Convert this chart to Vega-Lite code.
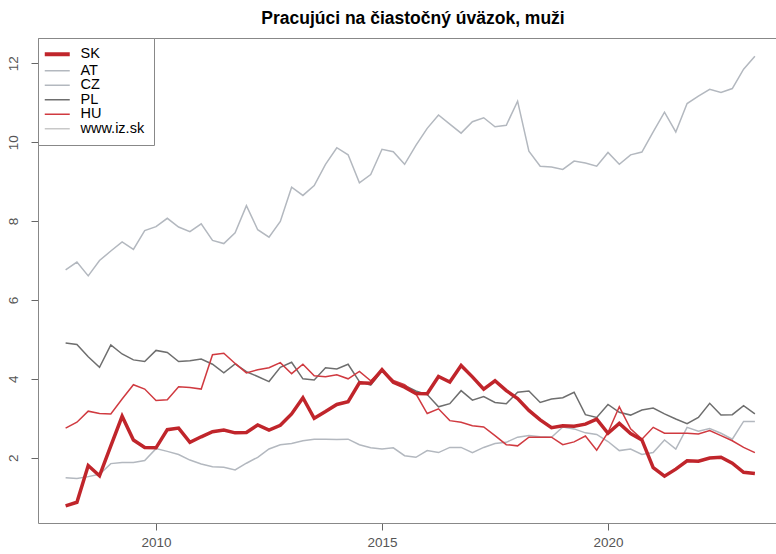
{
  "$schema": "https://vega.github.io/schema/vega-lite/v6.json",
  "width": 738,
  "height": 485,
  "autosize": {"type": "none"},
  "padding": {"left": 38, "top": 38, "right": 0, "bottom": 31},
  "background": "#ffffff",
  "title": {"text": "Pracujúci na čiastočný úväzok, muži", "fontSize": 17.5, "fontWeight": "bold", "font": "Liberation Sans", "color": "#000000", "anchor": "middle", "offset": 10, "dx": 6},
  "config": {"view": {"stroke": null}, "font": "Liberation Sans"},
  "data": {"values": [
{"t":2008,"s":"AT","v":6.76},{"t":2008.25,"s":"AT","v":6.96},{"t":2008.5,"s":"AT","v":6.61},{"t":2008.75,"s":"AT","v":7.00},{"t":2009,"s":"AT","v":7.24},{"t":2009.25,"s":"AT","v":7.47},{"t":2009.5,"s":"AT","v":7.28},{"t":2009.75,"s":"AT","v":7.76},{"t":2010,"s":"AT","v":7.86},{"t":2010.25,"s":"AT","v":8.07},{"t":2010.5,"s":"AT","v":7.85},{"t":2010.75,"s":"AT","v":7.73},{"t":2011,"s":"AT","v":7.93},{"t":2011.25,"s":"AT","v":7.51},{"t":2011.5,"s":"AT","v":7.43},{"t":2011.75,"s":"AT","v":7.70},{"t":2012,"s":"AT","v":8.39},{"t":2012.25,"s":"AT","v":7.78},{"t":2012.5,"s":"AT","v":7.59},{"t":2012.75,"s":"AT","v":7.99},{"t":2013,"s":"AT","v":8.86},{"t":2013.25,"s":"AT","v":8.65},{"t":2013.5,"s":"AT","v":8.90},{"t":2013.75,"s":"AT","v":9.44},{"t":2014,"s":"AT","v":9.86},{"t":2014.25,"s":"AT","v":9.68},{"t":2014.5,"s":"AT","v":8.97},{"t":2014.75,"s":"AT","v":9.18},{"t":2015,"s":"AT","v":9.82},{"t":2015.25,"s":"AT","v":9.76},{"t":2015.5,"s":"AT","v":9.44},{"t":2015.75,"s":"AT","v":9.92},{"t":2016,"s":"AT","v":10.35},{"t":2016.25,"s":"AT","v":10.69},{"t":2016.5,"s":"AT","v":10.46},{"t":2016.75,"s":"AT","v":10.23},{"t":2017,"s":"AT","v":10.52},{"t":2017.25,"s":"AT","v":10.62},{"t":2017.5,"s":"AT","v":10.39},{"t":2017.75,"s":"AT","v":10.43},{"t":2018,"s":"AT","v":11.04},{"t":2018.25,"s":"AT","v":9.77},{"t":2018.5,"s":"AT","v":9.39},{"t":2018.75,"s":"AT","v":9.37},{"t":2019,"s":"AT","v":9.31},{"t":2019.25,"s":"AT","v":9.52},{"t":2019.5,"s":"AT","v":9.47},{"t":2019.75,"s":"AT","v":9.39},{"t":2020,"s":"AT","v":9.74},{"t":2020.25,"s":"AT","v":9.44},{"t":2020.5,"s":"AT","v":9.68},{"t":2020.75,"s":"AT","v":9.75},{"t":2021,"s":"AT","v":10.26},{"t":2021.25,"s":"AT","v":10.76},{"t":2021.5,"s":"AT","v":10.26},{"t":2021.75,"s":"AT","v":10.98},{"t":2022,"s":"AT","v":11.17},{"t":2022.25,"s":"AT","v":11.34},{"t":2022.5,"s":"AT","v":11.26},{"t":2022.75,"s":"AT","v":11.36},{"t":2023,"s":"AT","v":11.85},{"t":2023.25,"s":"AT","v":12.18},
{"t":2008,"s":"CZ","v":1.49},{"t":2008.25,"s":"CZ","v":1.47},{"t":2008.5,"s":"CZ","v":1.52},{"t":2008.75,"s":"CZ","v":1.58},{"t":2009,"s":"CZ","v":1.85},{"t":2009.25,"s":"CZ","v":1.88},{"t":2009.5,"s":"CZ","v":1.88},{"t":2009.75,"s":"CZ","v":1.93},{"t":2010,"s":"CZ","v":2.23},{"t":2010.25,"s":"CZ","v":2.16},{"t":2010.5,"s":"CZ","v":2.08},{"t":2010.75,"s":"CZ","v":1.94},{"t":2011,"s":"CZ","v":1.84},{"t":2011.25,"s":"CZ","v":1.77},{"t":2011.5,"s":"CZ","v":1.76},{"t":2011.75,"s":"CZ","v":1.69},{"t":2012,"s":"CZ","v":1.86},{"t":2012.25,"s":"CZ","v":2.01},{"t":2012.5,"s":"CZ","v":2.22},{"t":2012.75,"s":"CZ","v":2.33},{"t":2013,"s":"CZ","v":2.36},{"t":2013.25,"s":"CZ","v":2.43},{"t":2013.5,"s":"CZ","v":2.47},{"t":2013.75,"s":"CZ","v":2.47},{"t":2014,"s":"CZ","v":2.46},{"t":2014.25,"s":"CZ","v":2.47},{"t":2014.5,"s":"CZ","v":2.33},{"t":2014.75,"s":"CZ","v":2.25},{"t":2015,"s":"CZ","v":2.22},{"t":2015.25,"s":"CZ","v":2.25},{"t":2015.5,"s":"CZ","v":2.05},{"t":2015.75,"s":"CZ","v":2.01},{"t":2016,"s":"CZ","v":2.18},{"t":2016.25,"s":"CZ","v":2.13},{"t":2016.5,"s":"CZ","v":2.26},{"t":2016.75,"s":"CZ","v":2.26},{"t":2017,"s":"CZ","v":2.13},{"t":2017.25,"s":"CZ","v":2.26},{"t":2017.5,"s":"CZ","v":2.36},{"t":2017.75,"s":"CZ","v":2.39},{"t":2018,"s":"CZ","v":2.52},{"t":2018.25,"s":"CZ","v":2.56},{"t":2018.5,"s":"CZ","v":2.53},{"t":2018.75,"s":"CZ","v":2.52},{"t":2019,"s":"CZ","v":2.78},{"t":2019.25,"s":"CZ","v":2.73},{"t":2019.5,"s":"CZ","v":2.63},{"t":2019.75,"s":"CZ","v":2.59},{"t":2020,"s":"CZ","v":2.41},{"t":2020.25,"s":"CZ","v":2.18},{"t":2020.5,"s":"CZ","v":2.22},{"t":2020.75,"s":"CZ","v":2.08},{"t":2021,"s":"CZ","v":2.13},{"t":2021.25,"s":"CZ","v":2.45},{"t":2021.5,"s":"CZ","v":2.22},{"t":2021.75,"s":"CZ","v":2.77},{"t":2022,"s":"CZ","v":2.67},{"t":2022.25,"s":"CZ","v":2.74},{"t":2022.5,"s":"CZ","v":2.62},{"t":2022.75,"s":"CZ","v":2.47},{"t":2023,"s":"CZ","v":2.92},{"t":2023.25,"s":"CZ","v":2.92},
{"t":2008,"s":"PL","v":4.91},{"t":2008.25,"s":"PL","v":4.87},{"t":2008.5,"s":"PL","v":4.56},{"t":2008.75,"s":"PL","v":4.29},{"t":2009,"s":"PL","v":4.86},{"t":2009.25,"s":"PL","v":4.63},{"t":2009.5,"s":"PL","v":4.48},{"t":2009.75,"s":"PL","v":4.44},{"t":2010,"s":"PL","v":4.72},{"t":2010.25,"s":"PL","v":4.67},{"t":2010.5,"s":"PL","v":4.44},{"t":2010.75,"s":"PL","v":4.46},{"t":2011,"s":"PL","v":4.50},{"t":2011.25,"s":"PL","v":4.37},{"t":2011.5,"s":"PL","v":4.15},{"t":2011.75,"s":"PL","v":4.38},{"t":2012,"s":"PL","v":4.18},{"t":2012.25,"s":"PL","v":4.06},{"t":2012.5,"s":"PL","v":3.93},{"t":2012.75,"s":"PL","v":4.29},{"t":2013,"s":"PL","v":4.42},{"t":2013.25,"s":"PL","v":4.00},{"t":2013.5,"s":"PL","v":3.97},{"t":2013.75,"s":"PL","v":4.28},{"t":2014,"s":"PL","v":4.25},{"t":2014.25,"s":"PL","v":4.37},{"t":2014.5,"s":"PL","v":3.93},{"t":2014.75,"s":"PL","v":3.84},{"t":2015,"s":"PL","v":4.20},{"t":2015.25,"s":"PL","v":3.93},{"t":2015.5,"s":"PL","v":3.83},{"t":2015.75,"s":"PL","v":3.69},{"t":2016,"s":"PL","v":3.60},{"t":2016.25,"s":"PL","v":3.29},{"t":2016.5,"s":"PL","v":3.37},{"t":2016.75,"s":"PL","v":3.70},{"t":2017,"s":"PL","v":3.46},{"t":2017.25,"s":"PL","v":3.55},{"t":2017.5,"s":"PL","v":3.40},{"t":2017.75,"s":"PL","v":3.37},{"t":2018,"s":"PL","v":3.66},{"t":2018.25,"s":"PL","v":3.69},{"t":2018.5,"s":"PL","v":3.40},{"t":2018.75,"s":"PL","v":3.49},{"t":2019,"s":"PL","v":3.52},{"t":2019.25,"s":"PL","v":3.66},{"t":2019.5,"s":"PL","v":3.09},{"t":2019.75,"s":"PL","v":3.02},{"t":2020,"s":"PL","v":3.35},{"t":2020.25,"s":"PL","v":3.15},{"t":2020.5,"s":"PL","v":3.08},{"t":2020.75,"s":"PL","v":3.21},{"t":2021,"s":"PL","v":3.26},{"t":2021.25,"s":"PL","v":3.11},{"t":2021.5,"s":"PL","v":2.98},{"t":2021.75,"s":"PL","v":2.86},{"t":2022,"s":"PL","v":3.02},{"t":2022.25,"s":"PL","v":3.38},{"t":2022.5,"s":"PL","v":3.08},{"t":2022.75,"s":"PL","v":3.09},{"t":2023,"s":"PL","v":3.32},{"t":2023.25,"s":"PL","v":3.11},
{"t":2008,"s":"HU","v":2.75},{"t":2008.25,"s":"HU","v":2.90},{"t":2008.5,"s":"HU","v":3.18},{"t":2008.75,"s":"HU","v":3.12},{"t":2009,"s":"HU","v":3.11},{"t":2009.25,"s":"HU","v":3.49},{"t":2009.5,"s":"HU","v":3.85},{"t":2009.75,"s":"HU","v":3.74},{"t":2010,"s":"HU","v":3.45},{"t":2010.25,"s":"HU","v":3.47},{"t":2010.5,"s":"HU","v":3.80},{"t":2010.75,"s":"HU","v":3.78},{"t":2011,"s":"HU","v":3.74},{"t":2011.25,"s":"HU","v":4.61},{"t":2011.5,"s":"HU","v":4.65},{"t":2011.75,"s":"HU","v":4.39},{"t":2012,"s":"HU","v":4.15},{"t":2012.25,"s":"HU","v":4.23},{"t":2012.5,"s":"HU","v":4.28},{"t":2012.75,"s":"HU","v":4.41},{"t":2013,"s":"HU","v":4.13},{"t":2013.25,"s":"HU","v":4.37},{"t":2013.5,"s":"HU","v":4.08},{"t":2013.75,"s":"HU","v":4.05},{"t":2014,"s":"HU","v":4.10},{"t":2014.25,"s":"HU","v":4.00},{"t":2014.5,"s":"HU","v":4.19},{"t":2014.75,"s":"HU","v":3.95},{"t":2015,"s":"HU","v":4.22},{"t":2015.25,"s":"HU","v":3.96},{"t":2015.5,"s":"HU","v":3.85},{"t":2015.75,"s":"HU","v":3.62},{"t":2016,"s":"HU","v":3.12},{"t":2016.25,"s":"HU","v":3.24},{"t":2016.5,"s":"HU","v":2.94},{"t":2016.75,"s":"HU","v":2.90},{"t":2017,"s":"HU","v":2.81},{"t":2017.25,"s":"HU","v":2.78},{"t":2017.5,"s":"HU","v":2.56},{"t":2017.75,"s":"HU","v":2.33},{"t":2018,"s":"HU","v":2.30},{"t":2018.25,"s":"HU","v":2.52},{"t":2018.5,"s":"HU","v":2.52},{"t":2018.75,"s":"HU","v":2.52},{"t":2019,"s":"HU","v":2.33},{"t":2019.25,"s":"HU","v":2.40},{"t":2019.5,"s":"HU","v":2.55},{"t":2019.75,"s":"HU","v":2.19},{"t":2020,"s":"HU","v":2.64},{"t":2020.25,"s":"HU","v":3.29},{"t":2020.5,"s":"HU","v":2.73},{"t":2020.75,"s":"HU","v":2.47},{"t":2021,"s":"HU","v":2.77},{"t":2021.25,"s":"HU","v":2.62},{"t":2021.5,"s":"HU","v":2.62},{"t":2021.75,"s":"HU","v":2.62},{"t":2022,"s":"HU","v":2.60},{"t":2022.25,"s":"HU","v":2.69},{"t":2022.5,"s":"HU","v":2.56},{"t":2022.75,"s":"HU","v":2.43},{"t":2023,"s":"HU","v":2.26},{"t":2023.25,"s":"HU","v":2.13},
{"t":2008,"s":"SK","v":0.78},{"t":2008.25,"s":"SK","v":0.87},{"t":2008.5,"s":"SK","v":1.80},{"t":2008.75,"s":"SK","v":1.54},{"t":2009,"s":"SK","v":2.30},{"t":2009.25,"s":"SK","v":3.05},{"t":2009.5,"s":"SK","v":2.45},{"t":2009.75,"s":"SK","v":2.26},{"t":2010,"s":"SK","v":2.25},{"t":2010.25,"s":"SK","v":2.71},{"t":2010.5,"s":"SK","v":2.75},{"t":2010.75,"s":"SK","v":2.39},{"t":2011,"s":"SK","v":2.53},{"t":2011.25,"s":"SK","v":2.66},{"t":2011.5,"s":"SK","v":2.70},{"t":2011.75,"s":"SK","v":2.63},{"t":2012,"s":"SK","v":2.64},{"t":2012.25,"s":"SK","v":2.83},{"t":2012.5,"s":"SK","v":2.70},{"t":2012.75,"s":"SK","v":2.82},{"t":2013,"s":"SK","v":3.11},{"t":2013.25,"s":"SK","v":3.52},{"t":2013.5,"s":"SK","v":3.00},{"t":2013.75,"s":"SK","v":3.17},{"t":2014,"s":"SK","v":3.35},{"t":2014.25,"s":"SK","v":3.42},{"t":2014.5,"s":"SK","v":3.90},{"t":2014.75,"s":"SK","v":3.89},{"t":2015,"s":"SK","v":4.23},{"t":2015.25,"s":"SK","v":3.91},{"t":2015.5,"s":"SK","v":3.79},{"t":2015.75,"s":"SK","v":3.63},{"t":2016,"s":"SK","v":3.62},{"t":2016.25,"s":"SK","v":4.06},{"t":2016.5,"s":"SK","v":3.92},{"t":2016.75,"s":"SK","v":4.34},{"t":2017,"s":"SK","v":4.05},{"t":2017.25,"s":"SK","v":3.74},{"t":2017.5,"s":"SK","v":3.95},{"t":2017.75,"s":"SK","v":3.70},{"t":2018,"s":"SK","v":3.50},{"t":2018.25,"s":"SK","v":3.20},{"t":2018.5,"s":"SK","v":2.96},{"t":2018.75,"s":"SK","v":2.76},{"t":2019,"s":"SK","v":2.81},{"t":2019.25,"s":"SK","v":2.80},{"t":2019.5,"s":"SK","v":2.85},{"t":2019.75,"s":"SK","v":2.98},{"t":2020,"s":"SK","v":2.62},{"t":2020.25,"s":"SK","v":2.87},{"t":2020.5,"s":"SK","v":2.61},{"t":2020.75,"s":"SK","v":2.45},{"t":2021,"s":"SK","v":1.75},{"t":2021.25,"s":"SK","v":1.53},{"t":2021.5,"s":"SK","v":1.71},{"t":2021.75,"s":"SK","v":1.92},{"t":2022,"s":"SK","v":1.91},{"t":2022.25,"s":"SK","v":1.99},{"t":2022.5,"s":"SK","v":2.01},{"t":2022.75,"s":"SK","v":1.86},{"t":2023,"s":"SK","v":1.63},{"t":2023.25,"s":"SK","v":1.60}
  ]},
  "resolve": {"axis": {"x": "independent"}},
  "layer": [
    {
      "transform": [{"filter": "datum.s != 'SK'"}],
      "mark": {"type": "line", "strokeWidth": 1.5},
      "encoding": {
        "x": {"field": "t", "type": "quantitative", "scale": {"domain": [2007.389, 2023.717], "nice": false, "zero": false},
          "axis": {"orient": "bottom", "values": [2010, 2015, 2020], "format": "d", "title": null, "grid": false, "domain": true, "domainColor": "#888888", "domainWidth": 1, "ticks": true, "tickColor": "#666666", "tickSize": 7, "labelFontSize": 13.5, "labelColor": "#555555", "labelPadding": 5, "labelFont": "Liberation Sans"}},
        "y": {"field": "v", "type": "quantitative", "scale": {"domain": [0.344, 12.642], "nice": false, "zero": false},
          "axis": {"orient": "left", "values": [2, 4, 6, 8, 10, 12], "title": null, "grid": false, "domain": true, "domainColor": "#888888", "domainWidth": 1, "tickColor": "#666666", "tickSize": 7, "labelAngle": 270, "labelAlign": "center", "labelBaseline": "alphabetic", "labelPadding": 14, "labelFontSize": 13.5, "labelColor": "#555555", "labelFont": "Liberation Sans"}},
        "color": {"field": "s", "type": "nominal",
          "scale": {"domain": ["SK", "AT", "CZ", "PL", "HU", "www.iz.sk"], "range": ["#c0252b", "#b3b8bf", "#b3b8bf", "#6e6e6e", "#d03a40", "#c8c8c8"]},
          "legend": {"orient": "none", "legendX": 0, "legendY": 0, "title": null, "symbolType": "stroke", "symbolSize": 625, "symbolStrokeWidth": 1.5, "labelFontSize": 14.5, "labelFont": "Liberation Sans", "labelColor": "#000000", "padding": 9, "rowPadding": -0.5, "labelOffset": 16, "symbolOffset": 3, "strokeColor": "#888888", "fillColor": "#ffffff",
            "encode": {"symbols": {"update": {"strokeWidth": {"signal": "datum.value === 'SK' ? 4 : 1.5"}}}}}}
      }
    },
    {
      "transform": [{"filter": "datum.s == 'SK'"}],
      "mark": {"type": "line", "strokeWidth": 3.5},
      "encoding": {
        "x": {"field": "t", "type": "quantitative", "scale": {"domain": [2007.389, 2023.717], "nice": false, "zero": false},
          "axis": {"orient": "top", "title": null, "grid": false, "domain": true, "domainColor": "#888888", "domainWidth": 1, "ticks": false, "labels": false}},
        "y": {"field": "v", "type": "quantitative"},
        "color": {"field": "s", "type": "nominal"}
      }
    }
  ]
}
